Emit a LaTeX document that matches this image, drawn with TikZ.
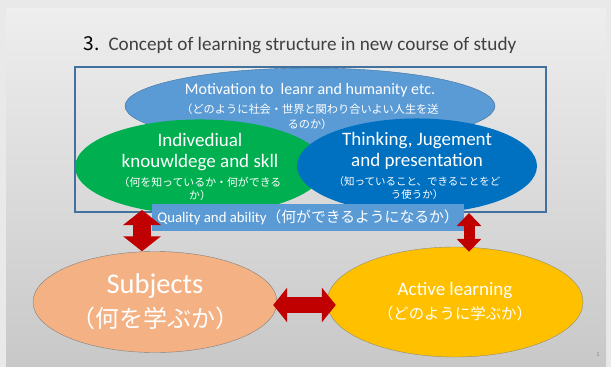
\documentclass[tikz,border=0pt]{standalone}
\usepackage{fontspec}
\setmainfont{Carlito}
\newfontfamily\jp{Noto Sans CJK JP}
\usetikzlibrary{positioning, shapes.geometric, arrows.meta, calc}

\definecolor{pagebg}{RGB}{233,233,233}
\definecolor{slidetop}{RGB}{238,238,238}
\definecolor{slidebot}{RGB}{200,200,200}
\definecolor{titlegray}{RGB}{64,64,64}
\definecolor{framec}{RGB}{65,113,156}
\definecolor{lightblue}{RGB}{91,155,213}
\definecolor{midblue}{RGB}{0,112,192}
\definecolor{leafgreen}{RGB}{0,176,80}
\definecolor{peach}{RGB}{244,177,131}
\definecolor{amber}{RGB}{255,192,0}
\definecolor{arrowred}{RGB}{192,0,0}

\begin{document}
\begin{tikzpicture}[x=1pt, y=-1pt,
        oval/.style={ellipse, inner sep=0pt, text=white, align=center},
        link/.style n args={3}{draw=arrowred, line width=#1,
            {Triangle[width=#2, length=#3]}-{Triangle[width=#2, length=#3]}}
        ]

        % slide background
        \fill[pagebg] (0,0) rectangle (611,367);
        \shade[top color=slidetop, bottom color=slidebot] (6,8) rectangle (606,367);
        \useasboundingbox (0,0) rectangle (611,367);

        \node[anchor=west, text=titlegray, font=\fontsize{19.2}{22}\selectfont] (title) at (80,45)
            {\textcolor{black}{\jp 3.}\, Concept of learning structure in new course of study};

        % upper group
        \node[draw=framec, line width=1.5pt, minimum width=471pt, minimum height=145pt,
              inner sep=0pt] (frame) at (310.5,139.5) {};

        \node[oval, fill=lightblue, draw=framec, thin, minimum width=370pt, minimum height=76pt,
              font=\fontsize{16}{19}\selectfont] (motiv) at (310,106)
            {Motivation to~ leanr and humanity etc.\\
             {\jp\fontsize{11.2}{13}\selectfont （どのように社会・世界と関わり合いよい人生を送}\\[-4pt]
             {\jp\fontsize{11.2}{13}\selectfont るのか）}};

        \node[oval, fill=leafgreen, minimum width=250pt, minimum height=86pt,
              font=\fontsize{19}{21}\selectfont] (know) at (200,167)
            {Indivediual\\knouwldege and skll\\[-2pt]
             {\jp\fontsize{10.9}{12}\selectfont （何を知っているか・何ができる}\\[-8pt]
             {\jp\fontsize{10.9}{12}\selectfont か）}};

        \node[oval, fill=midblue, minimum width=240pt, minimum height=82pt,
              font=\fontsize{19}{21}\selectfont] (think) at (417,166)
            {Thinking, Jugement\\and presentation\\[-2pt]
             {\jp\fontsize{10.5}{12}\selectfont （知っていること、できることをど}\\[-8pt]
             {\jp\fontsize{10.5}{12}\selectfont う使うか）}};

        \node[fill=lightblue, minimum width=312pt, minimum height=27pt, inner sep=0pt,
              text=white, font=\fontsize{14.8}{17}\selectfont] (qual) at (308,217)
            {Quality and ability{\jp （何ができるようになるか）}};

        % lower group
        \node[oval, fill=peach, draw=gray, minimum width=244pt, minimum height=101pt,
              font=\fontsize{28.5}{34}\selectfont] (subj) at (155,302)
            {Subjects\\{\jp\fontsize{24}{26}\selectfont （何を学ぶか）}};

        \node[oval, fill=amber, draw=gray!80!olive, minimum width=256pt, minimum height=110pt,
              font=\fontsize{19}{24}\selectfont] (act) at (455,302)
            {Active learning\\{\jp\fontsize{15.4}{18}\selectfont （どのように学ぶか）}};

        \node[text=gray, font=\fontsize{6}{7}\selectfont] (pagenum) at (598,355) {1};

        % double arrows
        \coordinate (qleft) at (142,210);
        \coordinate (qright) at (469,213);
        \draw[link={18pt}{37pt}{15pt}] (qleft) -- (subj.north -| qleft);
        \draw[link={11pt}{24pt}{13pt}] (qright) -- ($(act.north -| qright)+(0,5)$);
        \draw[link={16pt}{34pt}{14pt}] ($(subj.east)+(-4,3)$) -- ($(act.west)+(9,3)$);
    \end{tikzpicture}
\end{document}
